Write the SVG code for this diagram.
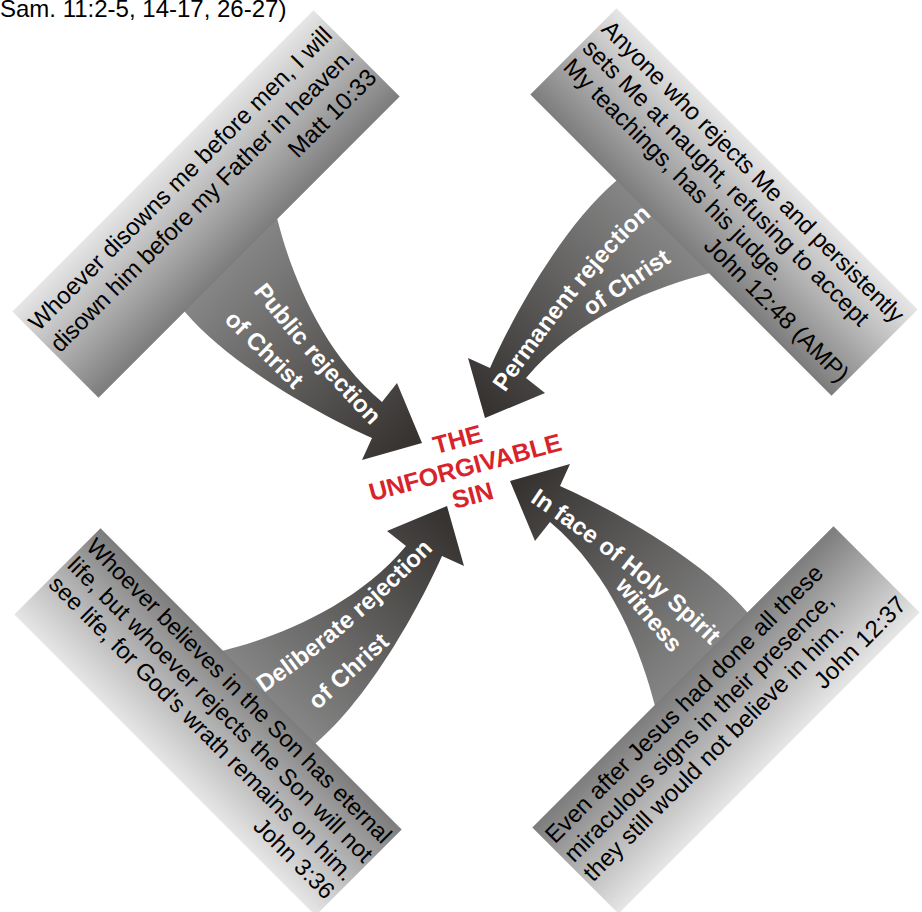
<svg xmlns="http://www.w3.org/2000/svg" xmlns:xlink="http://www.w3.org/1999/xlink" width="922" height="912" viewBox="0 0 922 912">
<defs>
<linearGradient id="boxGrad" gradientUnits="userSpaceOnUse" x1="162.9" y1="160.9" x2="249.1" y2="247.1">
<stop offset="0" stop-color="#e6e6e6"/><stop offset="0.35" stop-color="#c2c2c2"/><stop offset="1" stop-color="#7c7c7c"/>
</linearGradient>
<linearGradient id="arrowGrad" gradientUnits="userSpaceOnUse" x1="225" y1="262" x2="410" y2="440">
<stop offset="0" stop-color="#878787"/><stop offset="1" stop-color="#363331"/>
</linearGradient>
<path id="arrowShape" d="M178,305 L270,211 L277,218 C290,270 320,350 382,402 L397,383 L422,443 L362,460 L372,438 C320,415 230,365 185,312 Z" fill="url(#arrowGrad)"/>
<polygon id="boxShape" points="12.3,311.5 313.5,10.3 399.7,96.5 98.5,397.7" fill="url(#boxGrad)"/>
<path id="pTL1" d="M236.3,270 L254.8,293.6 Q303.8,356.2 369.1,423.9 L389.9,445.5"/>
<path id="pTL2" d="M215.8,313.3 L301.4,397.5"/>
<path id="pTR1" d="M490,414.5 L503.8,394.4 Q587.5,272.6 648.8,218 L671.2,198"/>
<path id="pTR2" d="M585.4,319.7 L676.6,258.3"/>
<path id="pBR1" d="M503.7,483.8 L528.6,500.6 Q642.8,577.6 711.4,646.2 L732.6,667.4"/>
<path id="pBR2" d="M610.7,581.8 L675.3,658.2"/>
<path id="pBL1" d="M238.6,709.9 L263.5,693.1 Q350.4,634.5 433.9,548.9 L454.8,527.5"/>
<path id="pBL2" d="M309.8,717.6 L398.2,636.4"/>
</defs>
<style>
.body{font-family:"Liberation Sans",Arial,sans-serif;font-size:24px;fill:#000}
.sm{font-size:23.5px}
.lbl{font-family:"Liberation Sans",Arial,sans-serif;font-size:24px;font-weight:bold;fill:#fff;text-anchor:middle}
.title{font-family:"Liberation Sans",Arial,sans-serif;font-size:25px;font-weight:bold;fill:#d8232a;text-anchor:middle}
.end{text-anchor:end}
</style>
<rect width="922" height="912" fill="#fff"/>
<text class="body" x="0" y="17">Sam. 11:2-5, 14-17, 26-27)</text>

<g id="connectors">
  <g id="arrow-public">
    <use xlink:href="#arrowShape" href="#arrowShape"/>
    <text class="lbl"><textPath xlink:href="#pTL1" href="#pTL1" startOffset="50%">Public rejection</textPath></text>
    <text class="lbl"><textPath xlink:href="#pTL2" href="#pTL2" startOffset="50%">of Christ</textPath></text>
  </g>
  <g id="arrow-permanent">
    <use xlink:href="#arrowShape" href="#arrowShape" transform="rotate(90 466 462)"/>
    <text class="lbl"><textPath xlink:href="#pTR1" href="#pTR1" startOffset="50%">Permanent rejection</textPath></text>
    <text class="lbl"><textPath xlink:href="#pTR2" href="#pTR2" startOffset="50%">of Christ</textPath></text>
  </g>
  <g id="arrow-spirit">
    <use xlink:href="#arrowShape" href="#arrowShape" transform="rotate(180 466 462)"/>
    <text class="lbl"><textPath xlink:href="#pBR1" href="#pBR1" startOffset="50%">In face of Holy Spirit</textPath></text>
    <text class="lbl"><textPath xlink:href="#pBR2" href="#pBR2" startOffset="50%">witness</textPath></text>
  </g>
  <g id="arrow-deliberate">
    <use xlink:href="#arrowShape" href="#arrowShape" transform="rotate(270 466 462)"/>
    <text class="lbl"><textPath xlink:href="#pBL1" href="#pBL1" startOffset="50%">Deliberate rejection</textPath></text>
    <text class="lbl"><textPath xlink:href="#pBL2" href="#pBL2" startOffset="50%">of Christ</textPath></text>
  </g>
</g>

<g id="box-matt">
  <use xlink:href="#boxShape" href="#boxShape"/>
  <g transform="rotate(-45 206 204)">
    <text class="body" x="-3" y="176">Whoever disowns me before men, I will</text>
    <text class="body" x="-3" y="206.5" textLength="418">disown him before my Father in heaven.</text>
    <text class="body end" x="416" y="237">Matt 10:33</text>
  </g>
</g>

<g id="box-john1248">
  <use xlink:href="#boxShape" href="#boxShape" transform="rotate(90 466 462)"/>
  <g transform="rotate(45 724 202)">
    <text class="body" x="515" y="168" textLength="416">Anyone who rejects Me and persistently</text>
    <text class="body" x="515" y="195">sets Me at naught, refusing to accept</text>
    <text class="body" x="515" y="222">My teachings, has his judge.</text>
    <text class="body end" x="934" y="249">John 12:48 (AMP)</text>
  </g>
</g>

<g id="box-john1237">
  <use xlink:href="#boxShape" href="#boxShape" transform="rotate(180 466 462)"/>
  <g transform="rotate(-45 726 720)">
    <text class="body" x="517" y="687">Even after Jesus had done all these</text>
    <text class="body" x="517" y="714">miraculous signs in their presence,</text>
    <text class="body" x="517" y="741">they still would not believe in him.</text>
    <text class="body end" x="935" y="768">John 12:37</text>
  </g>
</g>

<g id="box-john336">
  <use xlink:href="#boxShape" href="#boxShape" transform="rotate(270 466 462)"/>
  <g transform="rotate(45 208 722)">
    <text class="body sm" x="-2" y="686" textLength="420">Whoever believes in the Son has eternal</text>
    <text class="body sm" x="-2" y="712.5" textLength="420">life, but whoever rejects the Son will not</text>
    <text class="body sm" x="-2" y="739" textLength="420">see life, for God's wrath remains on him.</text>
    <text class="body sm end" x="417" y="765.5">John 3:36</text>
  </g>
</g>

<g id="center-title" transform="translate(465,467) rotate(-15)">
  <text class="title" x="0" y="-20">THE</text>
  <text class="title" x="0" y="9">UNFORGIVABLE</text>
  <text class="title" x="0" y="38">SIN</text>
</g>
</svg>
